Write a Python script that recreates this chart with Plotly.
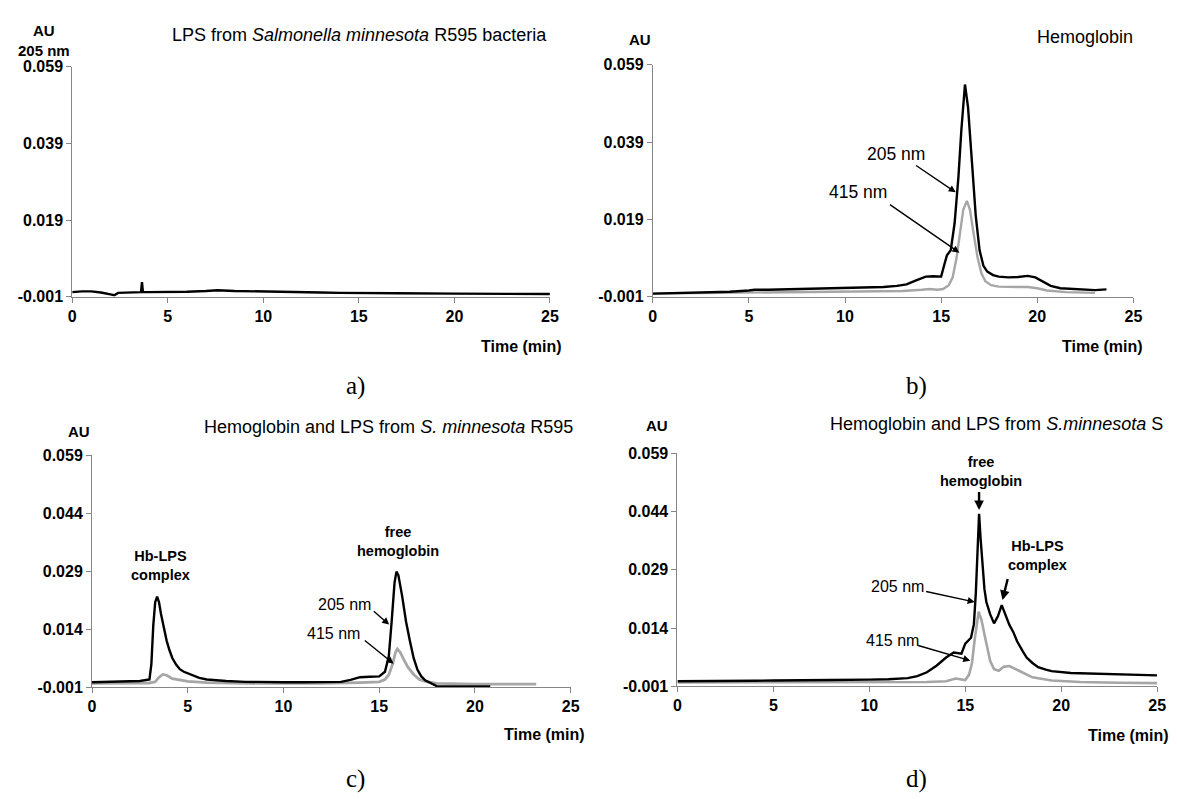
import plotly.graph_objects as go

# ---------------- data ----------------
# Panel a: LPS from S. minnesota R595 (205 nm)
a_t = [0, 0.5, 1.0, 1.5, 2.0, 2.2, 2.4, 3.0, 3.6, 3.65, 3.7, 4.0, 5, 6, 7, 7.6, 8.5, 10, 11, 12, 13, 14, 15, 17, 20, 22, 25]
a_205 = [0.0002, 0.0004, 0.0004, 0.0001, -0.0004, -0.0006, 0.0000, 0.0001, 0.0002, 0.0028, 0.0002, 0.0002, 0.0002,
         0.0003, 0.0005, 0.0007, 0.0005, 0.0004, 0.0004, 0.0002, 0.0001, 0.0000, 0.0000, -0.0001, -0.0002, -0.0002, -0.0003]

# Panel b: Hemoglobin
b_t205 = [0, 1, 2, 3, 4, 5, 5.3, 6, 7, 8, 9, 10, 11, 12, 12.7, 13.2, 13.7, 14.2, 14.6, 15.0, 15.15, 15.3, 15.5,
          15.7, 15.9, 16.05, 16.24, 16.4, 16.6, 16.8, 17.0, 17.2, 17.4, 17.7, 18.0, 18.5, 19.0, 19.5, 19.9, 20.3,
          20.7, 21.2, 22, 23, 23.6]
b_205 = [-0.0002, -0.0001, 0.0000, 0.0001, 0.0003, 0.0006, 0.0008, 0.0008, 0.0009, 0.0010, 0.0011, 0.0012, 0.0014,
         0.0015, 0.0018, 0.0022, 0.0032, 0.0042, 0.0043, 0.0042, 0.0070, 0.0097, 0.0110, 0.0180, 0.0300, 0.0420,
         0.0539, 0.0480, 0.0340, 0.0200, 0.0110, 0.0070, 0.0055, 0.0046, 0.0042, 0.0040, 0.0041, 0.0044, 0.0040,
         0.0028, 0.0018, 0.0012, 0.0009, 0.0007, 0.0009]
b_t415 = [0, 2, 4, 6, 8, 10, 12, 13, 14.0, 14.4, 14.8, 15.1, 15.4, 15.6, 15.8, 16.0, 16.15, 16.34, 16.5, 16.7, 16.9,
          17.1, 17.3, 17.6, 18, 19, 19.5, 20, 20.5, 21.5, 23]
b_415 = [-0.0002, -0.0001, 0.0000, 0.0001, 0.0002, 0.0003, 0.0004, 0.0005, 0.0008, 0.0010, 0.0008, 0.0010, 0.0020,
         0.0040, 0.0090, 0.0160, 0.0215, 0.0238, 0.0215, 0.0150, 0.0090, 0.0050, 0.0030, 0.0020, 0.0016, 0.0015,
         0.0015, 0.0012, 0.0006, 0.0002, 0.0000]

# Panel c: Hemoglobin and LPS from S. minnesota R595
c_t205 = [0, 1, 2, 2.5, 3.0, 3.1, 3.2, 3.3, 3.4, 3.5, 3.6, 3.75, 3.9, 4.05, 4.2, 4.4, 4.6, 4.8, 5.0, 5.3, 5.6, 6.0,
          7, 8, 9, 10, 11, 12, 13, 13.5, 14, 14.5, 15.0, 15.3, 15.5, 15.65, 15.8, 15.9, 16.0, 16.2, 16.4, 16.6,
          16.8, 17.0, 17.2, 17.4, 17.7, 18.0, 19, 20, 20.8]
c_205 = [0.0003, 0.0004, 0.0005, 0.0006, 0.0010, 0.0050, 0.0150, 0.0210, 0.0224, 0.0210, 0.0180, 0.0140, 0.0110,
         0.0085, 0.0065, 0.0048, 0.0036, 0.0030, 0.0026, 0.0020, 0.0014, 0.0010, 0.0006, 0.0004, 0.0003, 0.0003,
         0.0003, 0.0003, 0.0004, 0.0009, 0.0016, 0.0017, 0.0018, 0.0030, 0.0070, 0.0160, 0.0260, 0.0289, 0.0280,
         0.0225, 0.0160, 0.0110, 0.0065, 0.0035, 0.0018, 0.0008, 0.0000, -0.0007, -0.0008, -0.0008, -0.0008]
c_t415 = [0, 2, 3.0, 3.3, 3.5, 3.7, 3.9, 4.2, 4.6, 5.0, 6, 8, 10, 12, 14, 15, 15.3, 15.5, 15.7, 15.85, 15.95, 16.1,
          16.3, 16.5, 16.8, 17.1, 17.4, 18, 20, 23.2]
c_415 = [0.0000, 0.0000, 0.0001, 0.0004, 0.0016, 0.0023, 0.0021, 0.0012, 0.0008, 0.0005, 0.0002, 0.0000, 0.0000,
         0.0000, 0.0002, 0.0004, 0.0010, 0.0022, 0.0050, 0.0080, 0.0089, 0.0080, 0.0060, 0.0042, 0.0023, 0.0010,
         0.0005, 0.0000, -0.0002, -0.0002]

# Panel d: Hemoglobin and LPS from S. minnesota S
d_t205 = [0, 2, 4, 5, 6, 8, 10, 11, 12, 12.5, 13, 13.5, 14, 14.4, 14.8, 15.0, 15.3, 15.45, 15.55, 15.65, 15.72,
          15.8, 15.9, 16.0, 16.1, 16.3, 16.5, 16.7, 16.9, 17.1, 17.3, 17.5, 17.7, 18.0, 18.2, 18.5, 18.8, 19.2,
          19.5, 20.5, 22, 23.5, 25]
d_205 = [0.0003, 0.0003, 0.0004, 0.0005, 0.0005, 0.0006, 0.0007, 0.0008, 0.0011, 0.0016, 0.0026, 0.0043, 0.0064,
         0.0077, 0.0074, 0.0100, 0.0115, 0.0150, 0.0230, 0.0380, 0.0434, 0.0370, 0.0291, 0.0240, 0.0207, 0.0175,
         0.0152, 0.0170, 0.0199, 0.0175, 0.0148, 0.0130, 0.0106, 0.0080, 0.0064, 0.0050, 0.0039, 0.0033, 0.0029,
         0.0024, 0.0022, 0.0020, 0.0018]
d_t415 = [0, 5, 10, 13, 14, 14.5, 15.0, 15.2, 15.35, 15.5, 15.7, 15.85, 16.0, 16.15, 16.3, 16.5, 16.75, 17.0, 17.3,
          17.8, 18.5, 19.5, 21, 23, 25]
d_415 = [0.0000, 0.0000, 0.0000, 0.0001, 0.0003, 0.0010, 0.0006, 0.0020, 0.0050, 0.0114, 0.0182, 0.0160, 0.0123,
         0.0085, 0.0055, 0.0034, 0.0030, 0.0040, 0.0042, 0.0030, 0.0013, 0.0005, 0.0001, -0.0001, -0.0002]

x_ticks = [0, 5, 10, 15, 20, 25]
y_ticks_ab = [-0.001, 0.019, 0.039, 0.059]
y_ticks_cd = [-0.001, 0.014, 0.029, 0.044, 0.059]

titles = ["LPS from <i>Salmonella minnesota</i> R595 bacteria", "Hemoglobin",
          "Hemoglobin and LPS from <i>S. minnesota</i> R595", "Hemoglobin and LPS from <i>S.minnesota</i> S"]
panel_labels = ["a)", "b)", "c)", "d)"]

# ---------------- layout geometry (pixels) ----------------
W, H = 1177, 799
# (x0, x1, ytop, ybot)
boxes = [(69, 552, 60, 295), (656, 1142, 58, 295), (89, 573, 457, 694), (681, 1166, 455, 693)]

BLACK = "#000000"
GRAY = "#a6a6a6"
AXC = "#868686"
FONT = "Liberation Sans, Arial, sans-serif"

fig = go.Figure()

def add_line(t, v, idx, color, width=2.4):
    sfx = "" if idx == 0 else str(idx + 1)
    fig.add_trace(go.Scatter(x=t, y=v, mode="lines", line=dict(color=color, width=width),
                             xaxis="x" + sfx, yaxis="y" + sfx, showlegend=False, hoverinfo="skip"))

add_line(a_t, a_205, 0, BLACK)
add_line(b_t415, b_415, 1, GRAY)
add_line(b_t205, b_205, 1, BLACK)
add_line(c_t415, c_415, 2, GRAY, 2.8)
add_line(c_t205, c_205, 2, BLACK)
add_line(d_t415, d_415, 3, GRAY, 2.6)
add_line(d_t205, d_205, 3, BLACK)

layout = dict(width=W, height=H, margin=dict(l=0, r=0, t=0, b=0), paper_bgcolor="white",
              plot_bgcolor="white", showlegend=False)

for i, (x0, x1, yt, yb) in enumerate(boxes):
    sfx = "" if i == 0 else str(i + 1)
    yt_vals = y_ticks_ab if i < 2 else y_ticks_cd
    layout["xaxis" + sfx] = dict(domain=[x0 / W, x1 / W], range=[0, 25], anchor="y" + sfx,
                                 tickvals=x_ticks, ticktext=[str(v) for v in x_ticks],
                                 showline=True, linecolor=AXC, linewidth=1, showgrid=False, zeroline=False,
                                 ticks="outside", ticklen=5, tickcolor=AXC,
                                 tickfont=dict(family=FONT, size=16, color="black", weight="bold"))
    layout["yaxis" + sfx] = dict(domain=[1 - yb / H, 1 - yt / H], range=[-0.001, 0.059], anchor="x" + sfx,
                                 tickvals=yt_vals, ticktext=["%.3f" % v for v in yt_vals],
                                 showline=True, linecolor=AXC, linewidth=1, showgrid=False, zeroline=False,
                                 ticks="outside", ticklen=5, tickcolor=AXC,
                                 tickfont=dict(family=FONT, size=16, color="black", weight="bold"))

fig.update_layout(**layout)

def paper_text(text, px, py, size, bold=False, family=FONT, xanchor="center"):
    fig.add_annotation(text=("<b>%s</b>" % text) if bold else text, x=px / W, y=1 - py / H,
                       xref="paper", yref="paper", showarrow=False, xanchor=xanchor, yanchor="middle",
                       font=dict(family=family, size=size, color="black"))

# titles
title_pos = [(359, 28), (1093, 30), (389, 428), (1004, 425)]
for txt, (px, py) in zip(titles, title_pos):
    paper_text(txt, px, py, 18)

# AU labels
paper_text("AU", 40, 23, 15, bold=True)
paper_text("205 nm", 40, 43, 15, bold=True)
paper_text("AU", 643, 32, 15, bold=True)
paper_text("AU", 76, 433, 15, bold=True)
paper_text("AU", 660, 427, 15, bold=True)

# Time labels
for px, py in [(523, 346), (1111, 346), (547, 742), (1137, 743)]:
    paper_text("Time (min)", px, py, 16, bold=True)

# panel letters
for txt, (px, py) in zip(panel_labels, [(355, 386), (923, 386), (355, 788), (923, 788)]):
    paper_text(txt, px, py, 25, family="Liberation Serif, Times New Roman, serif")

def data_text(text, t, v, idx, size, bold=False):
    sfx = "" if idx == 0 else str(idx + 1)
    fig.add_annotation(text=("<b>%s</b>" % text) if bold else text, x=t, y=v, xref="x" + sfx, yref="y" + sfx,
                       showarrow=False, font=dict(family=FONT, size=size, color="black"))

def arrow(tail, tip, idx, width=1.4, head=2, size=1.0):
    sfx = "" if idx == 0 else str(idx + 1)
    fig.add_annotation(text="", x=tip[0], y=tip[1], ax=tail[0], ay=tail[1], xref="x" + sfx, yref="y" + sfx,
                       axref="x" + sfx, ayref="y" + sfx, showarrow=True, arrowhead=head, arrowsize=size,
                       arrowwidth=width, arrowcolor="black", standoff=0, startstandoff=0)

# panel b annotations
data_text("205 nm", 12.65, 0.0358, 1, 17.5)
arrow((13.62, 0.0332), (15.76, 0.0260), 1)
data_text("415 nm", 10.70, 0.0260, 1, 17.5)
arrow((12.26, 0.0231), (15.95, 0.0104), 1)

# panel c annotations
data_text("Hb-LPS<br>complex", 3.57, 0.0304, 2, 14.5, bold=True)
data_text("free<br>hemoglobin", 15.98, 0.0367, 2, 14.5, bold=True)
data_text("205 nm", 13.17, 0.0205, 2, 16)
arrow((14.64, 0.0190), (15.52, 0.0152), 2)
data_text("415 nm", 12.59, 0.0130, 2, 16)
arrow((14.17, 0.0114), (15.75, 0.0051), 2)

# panel d annotations
data_text("free<br>hemoglobin", 15.80, 0.0542, 3, 14.5, bold=True)
arrow((15.72, 0.0494), (15.72, 0.0444), 3, width=2.4, head=2, size=0.8)
data_text("Hb-LPS<br>complex", 18.75, 0.0328, 3, 14.5, bold=True)
arrow((17.23, 0.0270), (16.94, 0.0212), 3, width=2.4, head=2, size=0.8)
data_text("205 nm", 11.48, 0.0247, 3, 16)
arrow((12.88, 0.0235), (15.49, 0.0207), 3)
data_text("415 nm", 11.19, 0.0108, 3, 16)
arrow((12.47, 0.0096), (15.26, 0.0056), 3)

fig.write_html("out.html", config={"displayModeBar": False},
               post_script="document.body.style.margin='0';document.body.style.overflow='hidden';")
